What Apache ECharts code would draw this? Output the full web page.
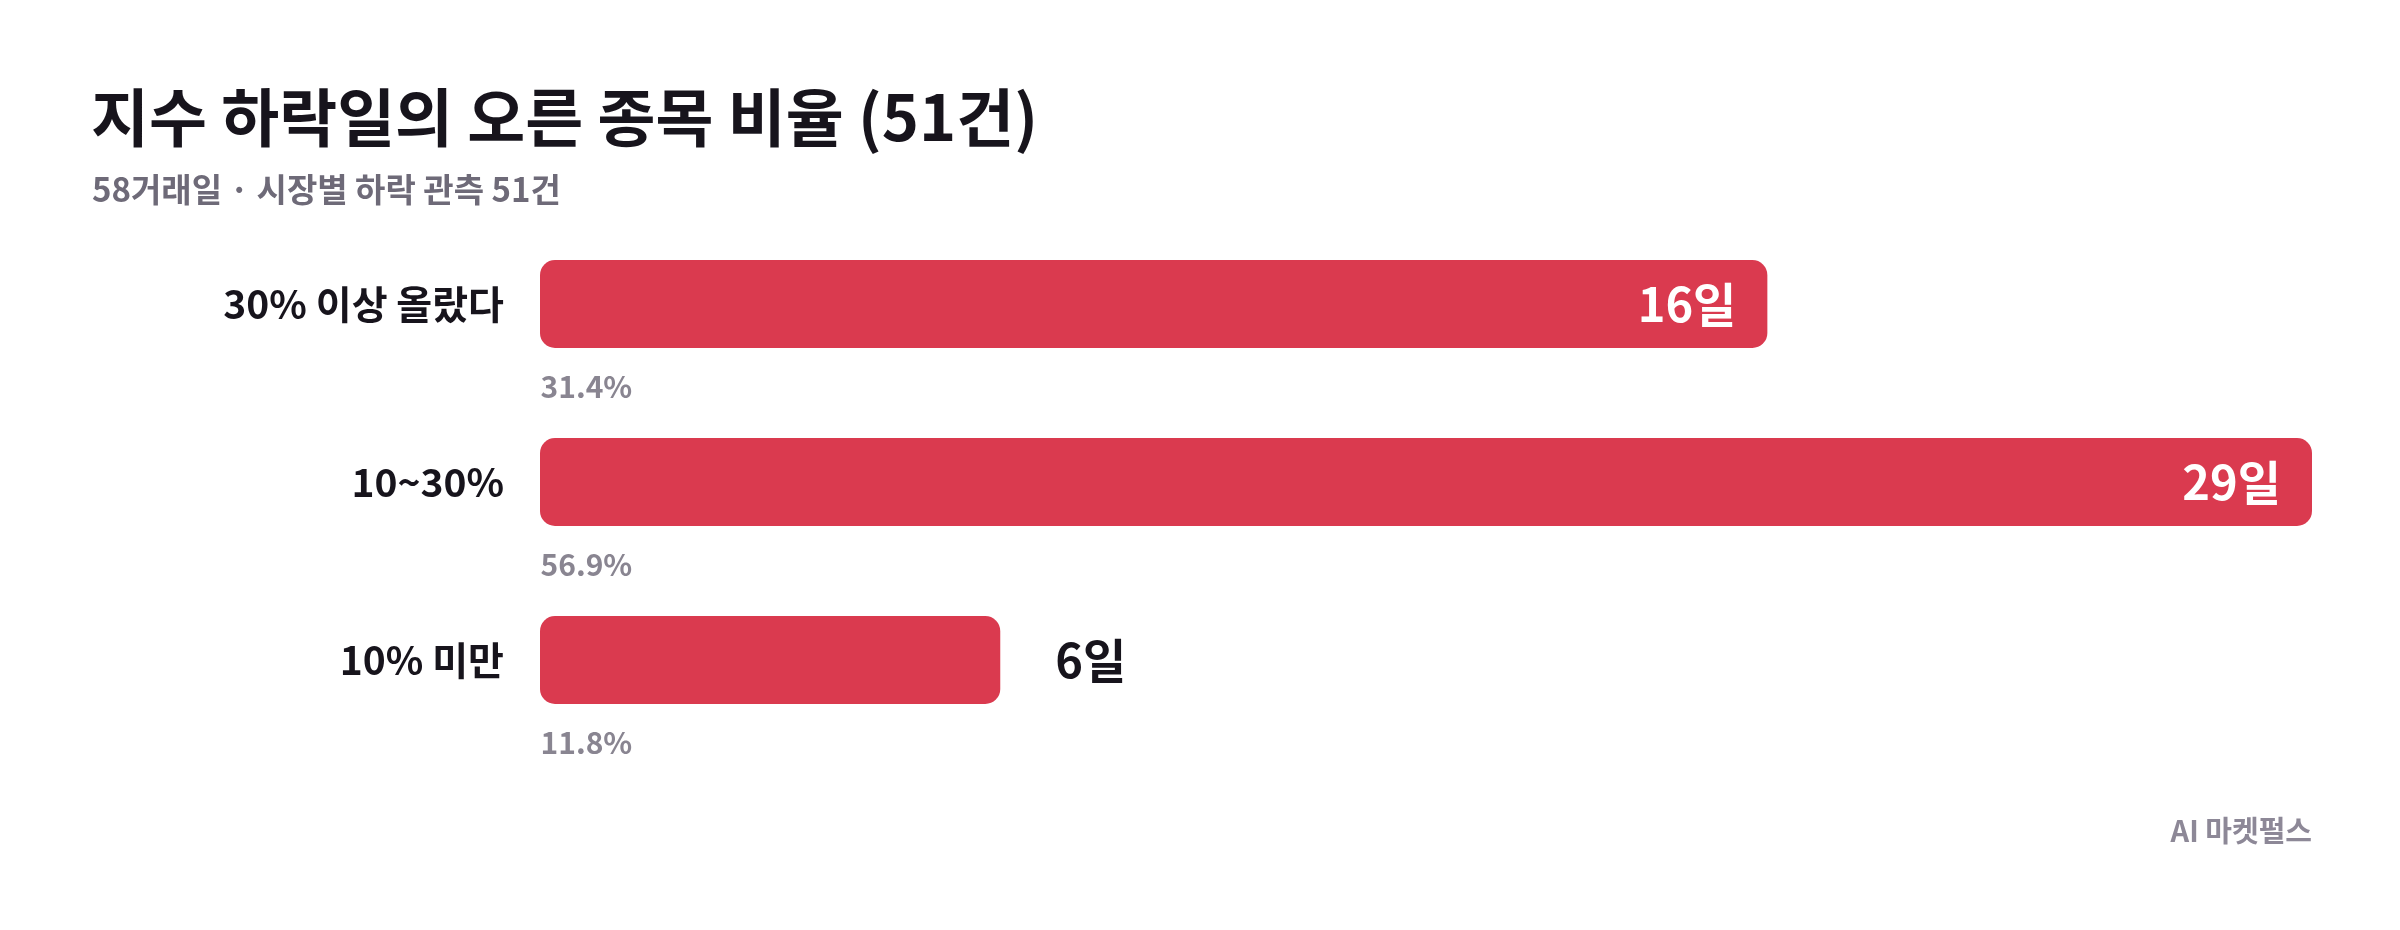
<!DOCTYPE html>
<html>
<head>
<meta charset="utf-8">
<script src="https://cdn.jsdelivr.net/npm/echarts@6/dist/echarts.min.js"></script>
<style>
html,body{margin:0;padding:0;background:#fff;}
#chart{width:2400px;height:930px;}
</style>
</head>
<body>
<div id="chart"></div>
<script>
const titleText = '지수 하락일의 오른 종목 비율 (51건)';
const subtitleText = '58거래일 · 시장별 하락 관측 51건';
const sourceText = 'AI 마켓펄스';
const categories = ['30% 이상 올랐다', '10~30%', '10% 미만'];
const days = [16, 29, 6];
const percents = [31.4, 56.9, 11.8];
const insideLabel = [true, true, false];

const FONT = '"Noto Sans CJK KR", "Noto Sans", sans-serif';
const RED = '#da3a4f';

const chart = echarts.init(document.getElementById('chart'), null, {renderer: 'canvas'});

const barData = days.map((v, i) => ({
  value: v,
  label: insideLabel[i]
    ? {position: 'insideRight', distance: 31, color: '#ffffff'}
    : {position: 'right', distance: 55, color: '#17141c'}
}));

const pctData = percents.map((p, i) => ({value: [0, categories[i]], pct: p}));

chart.setOption({
  backgroundColor: '#ffffff',
  animation: false,
  title: [
    {text: titleText, left: 91, top: 86, padding: 0,
     textStyle: {fontFamily: FONT, fontWeight: 'bold', fontSize: 63, color: '#17141c'}},
    {text: subtitleText, left: 92, top: 173, padding: 0,
     textStyle: {fontFamily: FONT, fontWeight: 'bold', fontSize: 33, color: '#6e6a78'}},
    {text: sourceText, right: 88, top: 816, padding: 0,
     textStyle: {fontFamily: FONT, fontWeight: 'bold', fontSize: 29, color: '#8d8897'}}
  ],
  grid: {left: 540, right: 88, top: 215, bottom: 181, containLabel: false},
  xAxis: {
    type: 'value', min: 0, max: 23.1,
    show: false
  },
  yAxis: {
    type: 'category', data: categories, inverse: true,
    axisLine: {show: false}, axisTick: {show: false}, splitLine: {show: false},
    axisLabel: {margin: 36, fontFamily: FONT, fontWeight: 'bold', fontSize: 39, color: '#17141c'}
  },
  series: [
    {
      type: 'bar', data: barData, barWidth: 88, clip: true,
      itemStyle: {color: RED, borderRadius: 15},
      label: {show: true, formatter: '{c}일', fontFamily: FONT, fontWeight: 'bold', fontSize: 47},
      z: 2
    },
    {
      type: 'scatter', data: pctData, symbolSize: 1,
      itemStyle: {color: 'rgba(0,0,0,0)'},
      label: {
        show: true, position: 'right', distance: 0, offset: [0, 83],
        formatter: p => p.data.pct.toFixed(1) + '%',
        fontFamily: FONT, fontWeight: 'bold', fontSize: 30, color: '#6b6675'
      },
      silent: true, z: 3
    }
  ]
});
</script>
</body>
</html>
